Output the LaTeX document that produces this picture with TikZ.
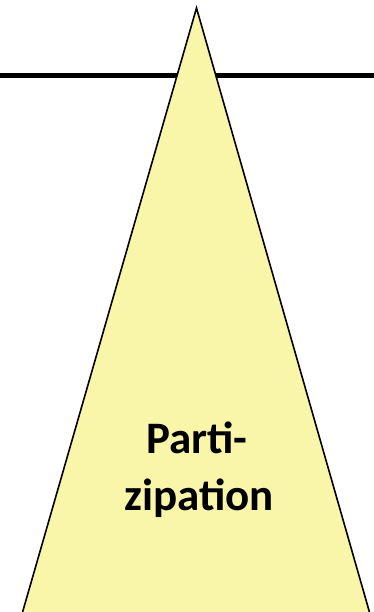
\documentclass[tikz,border=0pt]{standalone}
\usepackage{fontspec}
\setmainfont{Carlito}
\definecolor{triyellow}{HTML}{F9F5A9}
\tikzset{
  tri/.style={fill=triyellow, draw=black, line width=1.6pt, line join=miter},
  bar/.style={draw=black, line width=5pt},
  lbl/.style={font=\fontsize{45}{57}\selectfont\bfseries, inner sep=0pt, anchor=base}
}
\begin{document}
\begin{tikzpicture}[x=1pt,y=-1pt]
\useasboundingbox (0,0) rectangle (374,612);
\coordinate (L) at (0,76);
\coordinate (R) at (374,76);
\draw[bar] (L) -- (R);
\coordinate (apex) at (196.5,8);
\coordinate (bl) at (22,614);
\coordinate (br) at (370,614);
\filldraw[tri] (apex) -- (br) -- (bl) -- cycle;
\node[lbl] (t1) at (197,453) {Parti-};
\node[lbl] (t2) at (199,510) {zipation};
\end{tikzpicture}
\end{document}
